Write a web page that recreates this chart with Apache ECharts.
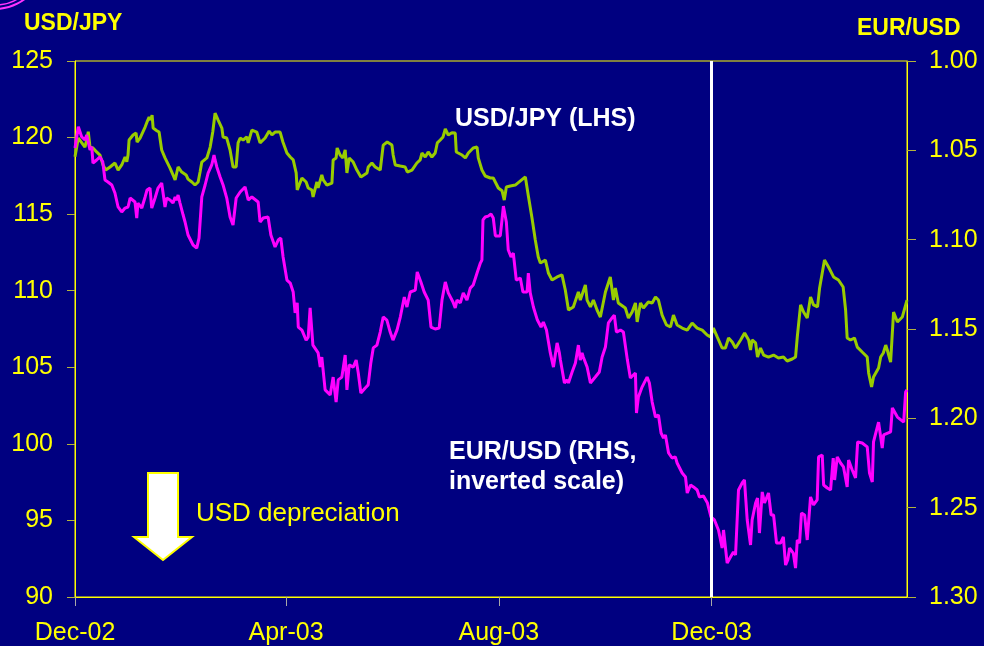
<!DOCTYPE html>
<html>
<head>
<meta charset="utf-8">
<script src="https://cdn.jsdelivr.net/npm/echarts@6/dist/echarts.min.js"></script>
<style>
  html, body { margin: 0; padding: 0; background: #000080; }
  #chart { width: 984px; height: 646px; }
</style>
</head>
<body>
<div id="chart"></div>
<script>
// x positions are days since 1 Dec 2002
const tickDays = [0, 121, 243, 365]
const tickLabels = ['Dec-02', 'Apr-03', 'Aug-03', 'Dec-03']

// USD/JPY (LHS)
const jpyDays = [
  0,1.9,5.7,6.7,7.6,8.6,10.3,12.4,14.3,16.1,
  17.6,20.1,22.9,24.7,26.8,28.7,29.7,30.4,31.0,33.3,
  35.0,35.6,37.3,38.3,40.2,41.3,42.5,43.4,44.2,44.8,
  46.9,48.2,49.7,51.6,52.8,54.5,56.2,57.4,59.1,61.2,
  63.7,64.8,67.0,68.8,70.6,71.7,72.7,75.6,77.5,79.0,
  80.3,82.0,84.2,84.9,87.0,88.9,90.6,92.4,93.5,94.7,
  96.4,98.5,99.3,101.4,104.2,106.1,109.0,111.3,112.9,114.7,
  117.6,119.2,121.5,123.4,125.1,126.8,127.4,130.1,132.5,133.7,
  135.8,136.5,138.7,139.4,141.5,142.3,144.4,147.3,148.0,149.7,
  150.3,152.0,153.6,154.9,155.9,157.2,159.5,161.6,163.9,167.4,
  168.1,170.2,172.1,175.0,176.7,179.0,181.7,182.4,183.6,186.5,
  189.3,190.5,193.2,196.0,197.9,198.9,200.8,202.5,204.6,206.5,
  207.7,209.4,211.0,212.3,214.0,216.1,218.0,218.6,219.7,221.9,
  223.8,225.5,228.3,230.5,231.2,233.3,235.2,238.1,239.8,242.7,
  244.8,246.1,247.3,249.6,252.4,258.2,259.9,262.0,263.9,265.6,
  266.8,269.7,271.4,273.5,276.4,277.1,279.2,281.1,282.9,285.7,
  288.6,289.7,292.6,293.6,295.5,297.2,299.3,301.2,304.1,306.9,
  308.7,309.8,311.5,315.5,317.3,319.4,321.3,322.3,324.2,325.9,
  328.7,330.9,332.8,334.5,336.6,339.1,341.4,343.1,345.2,348.1,
  351.0,353.8,356.7,359.6,362.4,364.3,366.0,368.2,371.0,372.9,
  374.7,376.8,378.7,381.6,383.9,386.2,387.3,388.2,390.2,391.3,
  393.0,394.8,397.6,400.5,403.3,406.2,408.3,411.2,413.1,414.1,
  416.0,417.7,419.8,421.7,423.4,425.7,426.9,427.8,429.7,432.0,
  434.9,437.7,440.4,441.8,442.7,444.6,446.9,448.5,451.3,454.2,
  455.0,456.7,457.8,460.7,461.9,463.4,464.8,465.7,467.6,469.3,
  471.5,474.3,477
]
const jpy = [
  118.75,119.97,119.38,119.84,120.38,119.38,119.32,119.06,118.86,118.21,
  117.88,118.08,118.34,117.88,118.21,118.73,118.42,118.86,119.84,120.17,
  120.30,119.71,119.97,119.84,120.69,121.02,121.34,121.15,121.47,120.62,
  120.45,120.36,119.19,118.67,118.40,118.01,117.56,117.23,118.08,117.75,
  117.56,117.29,117.10,116.90,117.10,117.75,118.40,118.67,119.38,120.38,
  121.60,121.15,120.62,120.04,119.97,119.19,118.08,118.08,119.65,119.97,
  119.84,120.04,119.65,120.49,120.36,119.65,119.97,120.43,120.17,120.36,
  120.36,119.71,118.99,118.73,118.54,117.69,116.58,117.36,117.10,116.71,
  116.58,116.12,117.10,116.71,117.56,117.23,116.90,117.03,118.54,118.67,
  119.32,118.86,118.67,119.19,117.69,118.67,118.40,117.88,117.43,117.69,
  118.08,118.34,118.08,117.88,119.51,119.71,119.51,118.86,118.21,118.14,
  118.08,117.75,117.88,118.34,118.54,118.99,118.73,119.06,118.73,118.99,
  119.65,119.84,120.04,120.56,120.17,120.32,120.30,119.06,119.19,118.86,
  118.67,118.99,119.32,119.38,118.67,117.88,117.49,117.36,117.36,116.71,
  116.53,115.92,116.77,116.84,116.90,117.43,116.20,114.75,113.31,112.20,
  111.81,112.00,111.16,110.70,110.90,111.03,111.03,110.05,108.74,108.94,
  109.92,109.39,110.37,109.39,108.94,109.39,108.74,108.28,109.92,110.90,
  109.39,110.18,109.20,108.87,108.22,108.61,109.20,107.96,109.20,108.87,
  109.26,109.20,109.59,109.39,108.41,107.76,107.63,108.41,107.76,107.56,
  107.43,107.89,107.56,107.43,107.11,106.98,107.56,106.98,106.26,106.26,
  106.91,106.65,106.26,106.78,107.24,106.78,106.13,106.78,106.59,105.67,
  106.26,105.80,105.67,105.80,105.61,105.67,105.41,105.54,105.67,106.98,
  109.07,108.61,108.22,109.59,109.07,108.94,110.18,110.18,112.00,111.55,
  110.90,110.70,110.24,108.74,106.91,106.78,106.91,106.32,106.00,105.67,
  104.63,103.71,104.37,104.95,105.67,105.93,106.45,106.13,105.34,108.61,
  107.96,108.28,109.39
]

// EUR/USD (RHS, inverted)
const eurDays = [
  0,1.9,2.9,3.8,5.7,6.7,7.5,8.6,9.6,10.3,
  12.4,14.3,15.9,17.2,18.9,21.1,22.9,24.7,26.8,28.7,
  30.4,31.6,34.4,35.4,36.1,38.3,40.2,41.3,43.0,44.0,
  45.9,47.6,49.7,51.6,52.6,54.5,56.2,57.4,58.3,59.1,
  60.2,62.0,63.1,64.8,67.7,69.8,71.1,72.7,74.6,76.3,
  78.4,79.7,80.3,81.3,83.2,84.9,87.0,88.9,90.6,92.4,
  94.7,97.5,99.3,101.4,105.0,106.1,107.9,110.7,112.3,114.7,
  116.5,118.0,119.3,121.5,123.4,125.1,126.2,127.4,128.0,130.1,
  132.5,133.7,134.8,136.4,139.4,140.6,141.5,143.4,146.3,148.0,
  149.7,150.9,153.0,154.9,155.9,157.2,159.5,161.2,162.4,163.9,
  166.4,168.1,169.6,171.0,173.1,175.0,176.7,178.8,180.7,182.3,
  184.6,186.5,188.8,190.3,192.2,195.1,196.2,198.3,200.2,202.5,
  204.1,206.5,208.8,210.4,212.3,214.0,216.7,218.0,219.0,220.9,
  222.6,224.7,226.6,228.3,230.5,232.4,233.3,233.9,235.2,236.9,
  238.5,239.8,241.0,243.8,244.8,245.6,247.3,248.4,250.0,251.3,
  253.0,255.3,256.8,259.2,259.9,261.0,262.8,265.1,267.2,268.5,
  270.3,272.5,274.3,276.4,277.7,278.3,280.6,282.1,282.9,285.0,
  286.9,288.6,289.7,290.7,291.4,293.6,295.5,298.3,300.6,302.2,
  304.1,305.8,307.9,309.2,310.4,312.7,314.4,316.7,318.4,321.3,
  321.9,323.0,325.1,328.0,329.3,330.9,332.8,334.5,336.0,337.4,
  338.5,340.3,342.3,344.2,345.2,348.1,350.0,351.0,352.9,354.6,
  356.7,358.0,360.3,362.6,364.6,366.6,368.9,370.1,371.0,371.8,
  373.9,375.8,377.5,378.7,380.4,382.5,383.8,385.4,387.3,388.2,
  390.2,391.3,392.4,394.0,395.3,397.6,399.1,400.5,402.2,404.5,
  406.1,407.4,408.6,409.7,411.8,413.1,414.1,415.4,416.5,418.3,
  419.8,421.7,423.4,425.5,426.3,428.4,429.2,431.3,433.2,434.7,
  435.5,437.0,438.9,440.6,442.7,443.5,445.6,447.5,448.7,451.3,
  454.2,455.5,457.1,457.8,460.7,462.8,463.6,467.6,468.6,471.5,
  475.1,476.2,477
]
const eur = [
  1.0487,1.0368,1.0358,1.0424,1.0442,1.0414,1.0425,1.0498,1.0480,1.0571,
  1.0554,1.0537,1.0564,1.0666,1.0677,1.0694,1.0739,1.0817,1.0845,1.0823,
  1.0817,1.0767,1.0789,1.0879,1.0795,1.0823,1.0761,1.0722,1.0711,1.0823,
  1.0767,1.0711,1.0683,1.0817,1.0767,1.0778,1.0795,1.0761,1.0778,1.0750,
  1.0795,1.0862,1.0901,1.0974,1.1030,1.1047,1.0991,1.0761,1.0694,1.0627,
  1.0582,1.0526,1.0554,1.0593,1.0649,1.0694,1.0767,1.0873,1.0918,1.0767,
  1.0733,1.0705,1.0778,1.0761,1.0789,1.0901,1.0879,1.0873,1.0974,1.1041,
  1.1002,1.0991,1.1097,1.1226,1.1243,1.1293,1.1410,1.1354,1.1489,1.1506,
  1.1562,1.1545,1.1382,1.1590,1.1634,1.1713,1.1657,1.1841,1.1869,1.1769,
  1.1909,1.1785,1.1769,1.1646,1.1841,1.1701,1.1713,1.1674,1.1746,1.1858,
  1.1830,1.1813,1.1690,1.1606,1.1590,1.1517,1.1433,1.1450,1.1517,1.1562,
  1.1506,1.1433,1.1321,1.1377,1.1293,1.1282,1.1181,1.1237,1.1293,1.1338,
  1.1489,1.1500,1.1494,1.1338,1.1237,1.1298,1.1349,1.1382,1.1338,1.1354,
  1.1298,1.1338,1.1271,1.1254,1.1187,1.1131,1.1114,1.0890,1.0873,1.0868,
  1.0856,1.0879,1.0979,1.0979,1.0890,1.0812,1.0901,1.1058,1.1097,1.1075,
  1.1226,1.1215,1.1293,1.1293,1.1187,1.1298,1.1377,1.1450,1.1489,1.1461,
  1.1506,1.1634,1.1713,1.1578,1.1634,1.1674,1.1802,1.1785,1.1802,1.1741,
  1.1690,1.1590,1.1674,1.1634,1.1657,1.1713,1.1802,1.1769,1.1741,1.1657,
  1.1601,1.1466,1.1438,1.1422,1.1517,1.1506,1.1517,1.1674,1.1774,1.1746,
  1.1970,1.1881,1.1825,1.1769,1.1802,1.1909,1.1993,1.1981,1.2082,1.2110,
  1.2093,1.2194,1.2222,1.2216,1.2250,1.2306,1.2328,1.2418,1.2373,1.2384,
  1.2401,1.2440,1.2435,1.2474,1.2552,1.2569,1.2625,1.2681,1.2726,1.2625,
  1.2810,1.2776,1.2748,1.2765,1.2401,1.2362,1.2345,1.2569,1.2709,1.2569,
  1.2474,1.2446,1.2642,1.2412,1.2474,1.2418,1.2541,1.2541,1.2698,1.2698,
  1.2664,1.2821,1.2793,1.2726,1.2754,1.2838,1.2681,1.2698,1.2530,1.2541,
  1.2681,1.2440,1.2485,1.2457,1.2216,1.2205,1.2373,1.2390,1.2401,1.2222,
  1.2345,1.2216,1.2250,1.2272,1.2384,1.2233,1.2289,1.2334,1.2132,1.2138,
  1.2160,1.2306,1.2356,1.2132,1.2021,1.2166,1.2093,1.2076,1.1942,1.1993,
  1.2021,1.1853,1.1841
]

const markerDay = 365 // Dec-03 vertical line

if (jpyDays.length !== jpy.length || eurDays.length !== eur.length) {
  console.error('length mismatch', jpyDays.length, jpy.length, eurDays.length, eur.length)
}

const FONT = 'Arial, "Liberation Sans", sans-serif'
const YELLOW = '#ffff00'

var myChart = echarts.init(document.getElementById('chart'))

myChart.setOption({
  backgroundColor: '#000080',
  animation: false,
  grid: {
    left: 75, right: 77, top: 61, bottom: 49,
    show: true, borderColor: YELLOW, borderWidth: 1
  },
  xAxis: {
    type: 'value',
    min: 0,
    max: 477,
    splitLine: { show: false },
    axisLine: { lineStyle: { color: YELLOW, width: 1 } },
    axisTick: {
      customValues: tickDays,
      length: 9,
      lineStyle: { color: '#a8a8a8' }
    },
    axisLabel: {
      customValues: tickDays,
      margin: 24,
      color: YELLOW,
      fontFamily: FONT,
      fontSize: 25,
      formatter: v => tickLabels[tickDays.indexOf(Math.round(v))] || ''
    }
  },
  yAxis: [
    {
      type: 'value',
      min: 90, max: 125, interval: 5,
      splitLine: { show: false },
      axisLine: { show: true, lineStyle: { color: YELLOW } },
      axisTick: { show: true, length: 8, lineStyle: { color: '#b4b43c' } },
      axisLabel: { margin: 22, color: YELLOW, fontFamily: FONT, fontSize: 25 }
    },
    {
      type: 'value',
      position: 'right',
      inverse: true,
      min: 1.0, max: 1.3, interval: 0.05,
      splitLine: { show: false },
      axisLine: { show: true, lineStyle: { color: YELLOW } },
      axisTick: { show: true, length: 9, lineStyle: { color: '#b4b43c' } },
      axisLabel: {
        margin: 22, color: YELLOW, fontFamily: FONT, fontSize: 25,
        formatter: v => v.toFixed(2)
      }
    }
  ],
  series: [
    {
      name: 'USD/JPY (LHS)',
      type: 'line',
      yAxisIndex: 0,
      showSymbol: false,
      lineStyle: { color: '#99cc00', width: 3 },
      data: jpyDays.map((d, i) => [d, jpy[i]]),
      markLine: {
        silent: true,
        symbol: 'none',
        label: { show: false },
        lineStyle: { color: '#ffffff', width: 3, type: 'solid' },
        data: [{ xAxis: markerDay }]
      }
    },
    {
      name: 'EUR/USD (RHS, inverted scale)',
      type: 'line',
      yAxisIndex: 1,
      showSymbol: false,
      lineStyle: { color: '#ff00ff', width: 3 },
      data: eurDays.map((d, i) => [d, eur[i]])
    }
  ],
  graphic: [
    // corner logo remnant
    { type: 'arc', shape: { cx: -5, cy: -40, r: 49, startAngle: 0.5, endAngle: 1.7 },
      style: { stroke: '#ff33ff', lineWidth: 2, fill: null } },
    { type: 'arc', shape: { cx: -5, cy: -40, r: 45, startAngle: 0.8, endAngle: 1.7 },
      style: { stroke: '#ff33ff', lineWidth: 1.5, fill: null } },
    { type: 'text', left: 24, top: 12,
      style: { text: 'USD/JPY', fill: YELLOW, font: 'bold 23px ' + FONT } },
    { type: 'text', left: 857, top: 17,
      style: { text: 'EUR/USD', fill: YELLOW, font: 'bold 23px ' + FONT } },
    { type: 'text', left: 455, top: 107,
      style: { text: 'USD/JPY (LHS)', fill: '#ffffff', font: 'bold 25px ' + FONT } },
    { type: 'text', left: 449, top: 437,
      style: { text: 'EUR/USD (RHS,\ninverted scale)', fill: '#ffffff',
               font: 'bold 25px ' + FONT, lineHeight: 30 } },
    { type: 'text', left: 196, top: 501,
      style: { text: 'USD depreciation', fill: YELLOW, font: '26px ' + FONT } },
    { type: 'polygon',
      shape: { points: [[148, 473], [178, 473], [178, 537], [192, 537], [163, 560], [134, 537], [148, 537]] },
      style: { fill: '#ffffff', stroke: YELLOW, lineWidth: 2 } }
  ]
})
</script>
</body>
</html>
